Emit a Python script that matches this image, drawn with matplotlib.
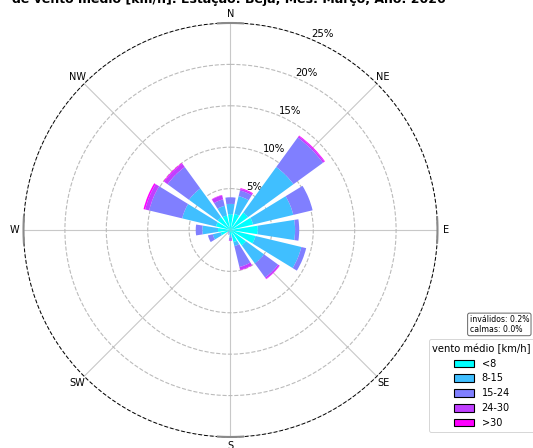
import numpy as np
import matplotlib
matplotlib.use("Agg")
import matplotlib.pyplot as plt
from matplotlib.patches import Patch

# Wind directions (16 sectors, clockwise from North)
directions = ["N", "NNE", "NE", "ENE", "E", "ESE", "SE", "SSE",
              "S", "SSW", "SW", "WSW", "W", "WNW", "NW", "NNW"]

# Frequency (%) per direction for each mean wind speed class
freq_lt8 = [1.9, 2.0, 2.6, 2.8, 3.3, 3.1, 2.3, 1.5, 0.6, 0.3, 0.2, 1.2, 1.5, 1.8, 1.9, 1.8]
freq_8_15 = [1.25, 2.2, 6.8, 5.0, 4.5, 5.7, 2.7, 0.5, 0.3, 0.2, 0.1, 1.0, 1.9, 4.2, 4.3, 1.2]
freq_15_24 = [0.8, 0.7, 4.4, 2.4, 0.5, 0.6, 2.1, 2.6, 0.3, 0.1, 0.1, 0.6, 0.8, 4.1, 3.2, 0.8]
freq_24_30 = [0.0, 0.2, 0.2, 0.0, 0.0, 0.0, 0.2, 0.35, 0.1, 0.0, 0.0, 0.0, 0.0, 0.5, 0.5, 0.5]
freq_gt30 = [0.0, 0.1, 0.1, 0.0, 0.0, 0.0, 0.05, 0.05, 0.0, 0.0, 0.0, 0.0, 0.0, 0.2, 0.1, 0.05]

speed_labels = ["<8", "8-15", "15-24", "24-30", ">30"]
radial_ticks = [5, 10, 15, 20, 25]
compass_labels = ["N", "NE", "E", "SE", "S", "SW", "W", "NW"]

invalid_pct = 0.2
calm_pct = 0.0

classes = [freq_lt8, freq_8_15, freq_15_24, freq_24_30, freq_gt30]
cmap = plt.get_cmap("cool")
colors = [cmap(i / (len(classes) - 1)) for i in range(len(classes))]

fig = plt.figure(figsize=(5.33, 4.48), dpi=100)
ax = fig.add_axes([0.0441, 0.0246, 0.7767, 0.9241], projection="polar")
ax.set_theta_zero_location("N")
ax.set_theta_direction(-1)

sector = 2 * np.pi / len(directions)
theta = np.arange(len(directions)) * sector
width = sector * 0.8

bottom = np.zeros(len(directions))
for vals, col in zip(classes, colors):
    v = np.asarray(vals, dtype=float)
    ax.bar(theta, v, width=width, bottom=bottom, color=col,
           edgecolor="none", linewidth=0, zorder=2)
    bottom += v

ax.set_ylim(0, 25)
ax.set_yticks(radial_ticks)
ax.set_yticklabels([f"{t}%" for t in radial_ticks], fontsize=7.3)
ax.set_rlabel_position(23)
ax.set_xticks(np.deg2rad(np.arange(0, 360, 45)))
ax.set_xticklabels(compass_labels, fontsize=7)
ax.tick_params(axis="x", pad=-4)

ax.yaxis.grid(True, color="#bbbbbb", linestyle="--", linewidth=0.8)
ax.xaxis.grid(True, color="#c8c8c8", linestyle="-", linewidth=0.8)
ax.set_axisbelow(True)
ax.spines["polar"].set_linestyle((0, (3, 3)))
ax.spines["polar"].set_linewidth(0.7)
ax.spines["polar"].set_color("black")

# Short markers on the outer ring at the cardinal points
for ang in [0, 90, 180, 270]:
    a = np.deg2rad(np.linspace(ang - 3.8, ang + 3.8, 20))
    ax.plot(a, np.full_like(a, 25), color="#8a8a8a", linewidth=1.5,
            solid_capstyle="butt", clip_on=False, zorder=3)

fig.text(0.43, 0.994,
         "de vento médio [km/h]. Estação: Beja, Mês: Março, Ano: 2026",
         ha="center", va="baseline", fontsize=9, fontweight="bold")

fig.text(0.881, 0.255, f"inválidos: {invalid_pct:.1f}%\ncalmas: {calm_pct:.1f}%",
         fontsize=5.6, ha="left", va="bottom", linespacing=1.1,
         bbox=dict(boxstyle="round,pad=0.25", facecolor="white",
                   edgecolor="#666666", linewidth=0.7))

handles = [Patch(facecolor=c, edgecolor="black", linewidth=0.8) for c in colors]
leg = fig.legend(handles, speed_labels, title="vento médio [km/h]",
                 loc="lower left", bbox_to_anchor=(0.795, 0.025),
                 fontsize=7, title_fontsize=7.2, frameon=True,
                 handlelength=2.1, handleheight=0.8, labelspacing=0.5,
                 borderpad=0.4)
leg.get_frame().set_edgecolor("#cccccc")
leg.get_frame().set_linewidth(0.7)

fig.savefig("out.png", dpi=100)
